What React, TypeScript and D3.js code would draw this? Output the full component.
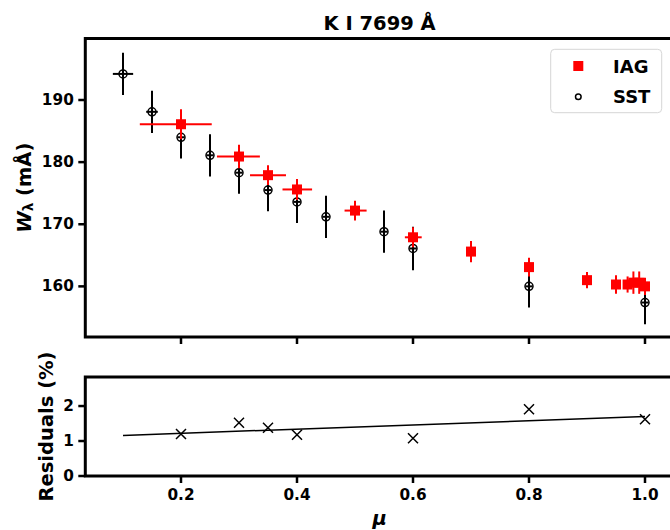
import React, { useEffect, useRef } from 'react';
import * as d3 from 'd3';

// IAG (red squares)
const iagMu = [0.2, 0.3, 0.35, 0.4, 0.5, 0.6, 0.7, 0.8, 0.9, 0.95, 0.97, 0.98, 0.99, 1.0];
const iagW = [186.1, 180.9, 177.9, 175.6, 172.2, 167.9, 165.6, 163.1, 161.0, 160.3, 160.3, 160.6, 160.6, 160.0];
const iagWErr = [2.4, 1.9, 1.6, 1.7, 1.6, 1.6, 1.7, 1.5, 1.3, 1.5, 1.3, 1.8, 1.8, 1.4];
const iagMuErrLo = [0.071, 0.038, 0.031, 0.025, 0.018, 0.014, 0.008, 0.006, 0.004, 0.004, 0.004, 0.004, 0.004, 0.004];
const iagMuErrHi = [0.053, 0.036, 0.031, 0.026, 0.02, 0.015, 0.008, 0.006, 0.004, 0.004, 0.004, 0.004, 0.004, 0.004];

// SST (open circles)
const sstMu = [0.1, 0.15, 0.2, 0.25, 0.3, 0.35, 0.4, 0.45, 0.55, 0.6, 0.8, 1.0];
const sstW = [194.2, 188.1, 184.0, 181.1, 178.3, 175.5, 173.6, 171.2, 168.8, 166.1, 160.0, 157.4];
const sstWErr = [3.4, 3.4, 3.4, 3.4, 3.4, 3.4, 3.4, 3.4, 3.4, 3.5, 3.4, 3.5];
const sstMuErr = [0.0175, 0.01, 0.006, 0.006, 0.006, 0.006, 0.006, 0.006, 0.006, 0.006, 0.006, 0.006];

// residuals panel
const resMu = [0.2, 0.3, 0.35, 0.4, 0.6, 0.8, 1.0];
const resVal = [1.2, 1.52, 1.38, 1.18, 1.08, 1.91, 1.62];
const fitMu = [0.1, 1.0];
const fitVal = [1.16, 1.7];

const xTicks = [0.2, 0.4, 0.6, 0.8, 1.0];
const yTicksTop = [160, 170, 180, 190];
const yTicksBottom = [0, 1, 2];

const FONT = '"DejaVu Sans", sans-serif';

export default function App() {
  const ref = useRef<SVGSVGElement>(null);

  useEffect(() => {
    const svg = d3.select(ref.current);
    svg.selectAll('*').remove();

    const left = 85.3, right = 674;
    const top1 = 38.5, bot1 = 337;
    const top2 = 377, bot2 = 476;

    const x = d3.scaleLinear().domain([0.035, 1.05]).range([left, right]);
    const y1 = d3.scaleLinear().domain([151.85, 199.9]).range([bot1, top1]);
    const y2 = d3.scaleLinear().domain([0, 2.83]).range([bot2, top2]);

    // ---- top panel ----
    const g1 = svg.append('g');

    // SST errorbars + circles
    sstMu.forEach((m, i) => {
      g1.append('line')
        .attr('x1', x(m)).attr('x2', x(m))
        .attr('y1', y1(sstW[i] - sstWErr[i])).attr('y2', y1(sstW[i] + sstWErr[i]))
        .attr('stroke', 'black').attr('stroke-width', 2);
      g1.append('line')
        .attr('x1', x(m - sstMuErr[i])).attr('x2', x(m + sstMuErr[i]))
        .attr('y1', y1(sstW[i])).attr('y2', y1(sstW[i]))
        .attr('stroke', 'black').attr('stroke-width', 2);
      g1.append('circle')
        .attr('cx', x(m)).attr('cy', y1(sstW[i])).attr('r', 4)
        .attr('fill', 'none').attr('stroke', 'black').attr('stroke-width', 1.5);
    });

    // IAG errorbars + squares
    iagMu.forEach((m, i) => {
      g1.append('line')
        .attr('x1', x(m)).attr('x2', x(m))
        .attr('y1', y1(iagW[i] - iagWErr[i])).attr('y2', y1(iagW[i] + iagWErr[i]))
        .attr('stroke', 'red').attr('stroke-width', 2);
      g1.append('line')
        .attr('x1', x(m - iagMuErrLo[i])).attr('x2', x(m + iagMuErrHi[i]))
        .attr('y1', y1(iagW[i])).attr('y2', y1(iagW[i]))
        .attr('stroke', 'red').attr('stroke-width', 2);
      g1.append('rect')
        .attr('x', x(m) - 5).attr('y', y1(iagW[i]) - 5)
        .attr('width', 10).attr('height', 10)
        .attr('fill', 'red');
    });

    // spines
    g1.append('rect')
      .attr('x', left).attr('y', top1)
      .attr('width', right - left).attr('height', bot1 - top1)
      .attr('fill', 'none').attr('stroke', 'black').attr('stroke-width', 3);

    // ticks
    xTicks.forEach(t => {
      g1.append('line').attr('x1', x(t)).attr('x2', x(t))
        .attr('y1', bot1).attr('y2', bot1 + 7)
        .attr('stroke', 'black').attr('stroke-width', 2.5);
    });
    yTicksTop.forEach(t => {
      g1.append('line').attr('x1', left - 7).attr('x2', left)
        .attr('y1', y1(t)).attr('y2', y1(t))
        .attr('stroke', 'black').attr('stroke-width', 2.5);
      g1.append('text').attr('x', left - 11.5).attr('y', y1(t))
        .attr('text-anchor', 'end').attr('dominant-baseline', 'central')
        .attr('font-size', 15.3).attr('font-weight', 'bold').attr('font-family', FONT)
        .text(String(t));
    });

    // title
    g1.append('text')
      .attr('x', (left + right) / 2).attr('y', 30)
      .attr('text-anchor', 'middle')
      .attr('font-size', 19.5).attr('font-weight', 'bold').attr('font-family', FONT)
      .text('K I 7699 Å');

    // y label
    const yl = g1.append('text')
      .attr('transform', `translate(24,${(top1 + bot1) / 2}) rotate(-90)`)
      .attr('text-anchor', 'middle').attr('dominant-baseline', 'central')
      .attr('font-size', 19.5).attr('font-weight', 'bold').attr('font-family', FONT);
    yl.append('tspan').attr('font-style', 'italic').text('W');
    yl.append('tspan').attr('font-size', 13.5).attr('dy', 4).text('λ');
    yl.append('tspan').attr('dy', -4).text(' (mÅ)');

    // legend
    const lg = g1.append('g');
    lg.append('rect')
      .attr('x', 550.7).attr('y', 49.3).attr('width', 111).attr('height', 63.4)
      .attr('rx', 4).attr('fill', 'white').attr('fill-opacity', 0.8)
      .attr('stroke', '#d6d6d6').attr('stroke-width', 1);
    lg.append('rect').attr('x', 573.3).attr('y', 61).attr('width', 10).attr('height', 10).attr('fill', 'red');
    lg.append('circle').attr('cx', 578.3).attr('cy', 96.7).attr('r', 2.8)
      .attr('fill', 'none').attr('stroke', 'black').attr('stroke-width', 1.5);
    lg.append('text').attr('x', 613).attr('y', 72.5)
      .attr('font-size', 18).attr('font-weight', 'bold').attr('font-family', FONT).text('IAG');
    lg.append('text').attr('x', 613).attr('y', 103.2)
      .attr('font-size', 18).attr('font-weight', 'bold').attr('font-family', FONT).text('SST');

    // ---- bottom panel ----
    const g2 = svg.append('g');

    const line = d3.line<number>().x((d, i) => x(fitMu[i])).y(d => y2(d));
    g2.append('path').attr('d', line(fitVal))
      .attr('fill', 'none').attr('stroke', 'black').attr('stroke-width', 1.5);

    resMu.forEach((m, i) => {
      const cx = x(m), cy = y2(resVal[i]);
      g2.append('path')
        .attr('d', `M${cx - 5},${cy - 5}L${cx + 5},${cy + 5}M${cx - 5},${cy + 5}L${cx + 5},${cy - 5}`)
        .attr('stroke', 'black').attr('stroke-width', 1.5).attr('fill', 'none');
    });

    g2.append('rect')
      .attr('x', left).attr('y', top2)
      .attr('width', right - left).attr('height', bot2 - top2)
      .attr('fill', 'none').attr('stroke', 'black').attr('stroke-width', 3);

    xTicks.forEach(t => {
      g2.append('line').attr('x1', x(t)).attr('x2', x(t))
        .attr('y1', bot2).attr('y2', bot2 + 7)
        .attr('stroke', 'black').attr('stroke-width', 2.5);
      g2.append('text').attr('x', x(t)).attr('y', 500)
        .attr('text-anchor', 'middle')
        .attr('font-size', 15.3).attr('font-weight', 'bold').attr('font-family', FONT)
        .text(t.toFixed(1));
    });
    yTicksBottom.forEach(t => {
      g2.append('line').attr('x1', left - 7).attr('x2', left)
        .attr('y1', y2(t)).attr('y2', y2(t))
        .attr('stroke', 'black').attr('stroke-width', 2.5);
      g2.append('text').attr('x', left - 11.5).attr('y', y2(t))
        .attr('text-anchor', 'end').attr('dominant-baseline', 'central')
        .attr('font-size', 15.3).attr('font-weight', 'bold').attr('font-family', FONT)
        .text(String(t));
    });

    g2.append('text')
      .attr('transform', `translate(46,${(top2 + bot2) / 2}) rotate(-90)`)
      .attr('text-anchor', 'middle').attr('dominant-baseline', 'central')
      .attr('font-size', 19.5).attr('font-weight', 'bold').attr('font-family', FONT)
      .text('Residuals (%)');

    g2.append('text')
      .attr('x', (left + right) / 2).attr('y', 525)
      .attr('text-anchor', 'middle')
      .attr('font-size', 19.5).attr('font-weight', 'bold').attr('font-style', 'italic')
      .attr('font-family', FONT)
      .text('μ');
  }, []);

  return (
    <svg
      ref={ref}
      width={670}
      height={530}
      style={{ position: 'absolute', left: 0, top: 0, background: 'white' }}
    />
  );
}
